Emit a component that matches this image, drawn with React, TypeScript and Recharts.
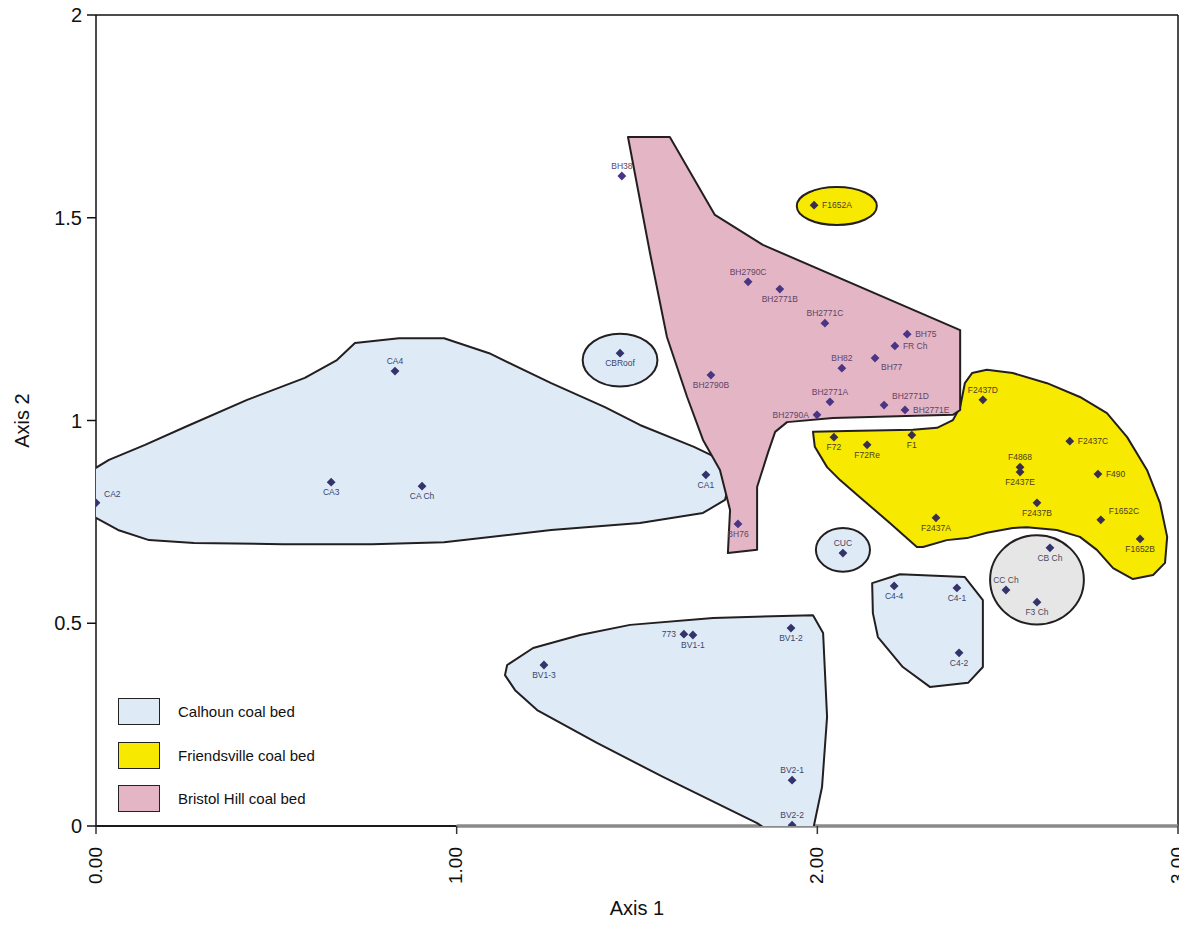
import React from 'react';
import { ScatterChart, Scatter, XAxis, YAxis, Legend, Label, ReferenceLine } from 'recharts';

const FONT = "'Liberation Sans', Arial, Helvetica, sans-serif";
const BLUE = '#deebf7';
const YELLOW = '#f8e900';
const PINK = '#e4b5c5';
const GRAY = '#e6e6e6';
const EDGE = '#231f20';

const xTicks = [0, 1, 2, 3];
const yTicks = [0, 0.5, 1, 1.5, 2];

type P = { name: string; x: number; y: number };
type V = { x: number; y: number };

// ---- sample points ----
const calhounSamples: P[] = [
  { name: 'CA2', x: 0.0, y: 0.797 },
  { name: 'CA3', x: 0.652, y: 0.848 },
  { name: 'CA Ch', x: 0.904, y: 0.838 },
  { name: 'CA4', x: 0.829, y: 1.122 },
  { name: 'CA1', x: 1.691, y: 0.866 },
  { name: 'CBRoof', x: 1.453, y: 1.166 },
  { name: 'CUC', x: 2.071, y: 0.673 },
  { name: 'C4-4', x: 2.213, y: 0.592 },
  { name: 'C4-1', x: 2.387, y: 0.587 },
  { name: 'C4-2', x: 2.393, y: 0.427 },
  { name: '773', x: 1.63, y: 0.473 },
  { name: 'BV1-1', x: 1.655, y: 0.471 },
  { name: 'BV1-2', x: 1.927, y: 0.488 },
  { name: 'BV1-3', x: 1.242, y: 0.397 },
  { name: 'BV2-1', x: 1.93, y: 0.113 },
  { name: 'BV2-2', x: 1.93, y: 0.002 },
];

const bristolSamples: P[] = [
  { name: 'BH38', x: 1.458, y: 1.603 },
  { name: 'BH2790C', x: 1.808, y: 1.342 },
  { name: 'BH2771B', x: 1.896, y: 1.324 },
  { name: 'BH2771C', x: 2.021, y: 1.24 },
  { name: 'BH75', x: 2.249, y: 1.213 },
  { name: 'FR Ch', x: 2.215, y: 1.184 },
  { name: 'BH82', x: 2.068, y: 1.129 },
  { name: 'BH77', x: 2.16, y: 1.154 },
  { name: 'BH2790B', x: 1.705, y: 1.112 },
  { name: 'BH2771A', x: 2.035, y: 1.046 },
  { name: 'BH2771D', x: 2.185, y: 1.038 },
  { name: 'BH2771E', x: 2.243, y: 1.026 },
  { name: 'BH2790A', x: 1.999, y: 1.014 },
  { name: 'BH76', x: 1.78, y: 0.745 },
];

const friendsvilleSamples: P[] = [
  { name: 'F1652A', x: 1.991, y: 1.531 },
  { name: 'F2437D', x: 2.459, y: 1.051 },
  { name: 'F72', x: 2.046, y: 0.959 },
  { name: 'F72Re', x: 2.138, y: 0.94 },
  { name: 'F1', x: 2.262, y: 0.964 },
  { name: 'F2437C', x: 2.7, y: 0.949 },
  { name: 'F4868', x: 2.562, y: 0.885 },
  { name: 'F2437E', x: 2.562, y: 0.873 },
  { name: 'F490', x: 2.778, y: 0.868 },
  { name: 'F2437B', x: 2.609, y: 0.797 },
  { name: 'F2437A', x: 2.329, y: 0.76 },
  { name: 'F1652C', x: 2.786, y: 0.755 },
  { name: 'F1652B', x: 2.895, y: 0.708 },
];

const channelSamples: P[] = [
  { name: 'CB Ch', x: 2.645, y: 0.686 },
  { name: 'CC Ch', x: 2.523, y: 0.582 },
  { name: 'F3 Ch', x: 2.609, y: 0.552 },
];

const labelSide: Record<string, string> = {
  CA2: 'aboveRight', CA3: 'below', 'CA Ch': 'below', CA4: 'above', CA1: 'below', CBRoof: 'below',
  CUC: 'above', 'C4-4': 'below', 'C4-1': 'below', 'C4-2': 'below', '773': 'left', 'BV1-1': 'below',
  'BV1-2': 'below', 'BV1-3': 'below', 'BV2-1': 'above', 'BV2-2': 'above',
  BH38: 'above', BH2790C: 'above', BH2771B: 'below', BH2771C: 'above', BH75: 'right', 'FR Ch': 'right',
  BH82: 'above', BH77: 'belowRight', BH2790B: 'below', BH2771A: 'above', BH2771D: 'aboveRight',
  BH2771E: 'right', BH2790A: 'left', BH76: 'below',
  F1652A: 'right', F2437D: 'above', F72: 'below', F72Re: 'below', F1: 'below', F2437C: 'right',
  F4868: 'above', F2437E: 'below', F490: 'right', F2437B: 'below', F2437A: 'below', F1652C: 'aboveRight',
  F1652B: 'below', 'CB Ch': 'below', 'CC Ch': 'above', 'F3 Ch': 'below',
};

// ---- group outlines (data units) ----
const calhounAOutline: V[] = [
  { x: -0.036, y: 0.829 }, { x: -0.019, y: 0.873 }, { x: 0.036, y: 0.903 }, { x: 0.136, y: 0.94 },
  { x: 0.247, y: 0.984 }, { x: 0.419, y: 1.051 }, { x: 0.579, y: 1.105 }, { x: 0.668, y: 1.149 },
  { x: 0.718, y: 1.191 }, { x: 0.84, y: 1.203 }, { x: 0.965, y: 1.203 }, { x: 1.09, y: 1.166 },
  { x: 1.262, y: 1.092 }, { x: 1.411, y: 1.033 }, { x: 1.508, y: 0.989 }, { x: 1.658, y: 0.935 },
  { x: 1.733, y: 0.903 }, { x: 1.758, y: 0.853 }, { x: 1.744, y: 0.804 }, { x: 1.683, y: 0.772 },
  { x: 1.508, y: 0.747 }, { x: 1.262, y: 0.73 }, { x: 0.965, y: 0.7 }, { x: 0.765, y: 0.695 },
  { x: 0.518, y: 0.695 }, { x: 0.272, y: 0.698 }, { x: 0.147, y: 0.705 }, { x: 0.061, y: 0.73 },
  { x: -0.014, y: 0.767 },
];

const bristolOutline: V[] = [
  { x: 1.475, y: 1.699 }, { x: 1.591, y: 1.699 }, { x: 1.716, y: 1.507 }, { x: 1.849, y: 1.433 },
  { x: 2.396, y: 1.223 }, { x: 2.396, y: 1.026 }, { x: 2.376, y: 1.014 }, { x: 2.043, y: 1.006 },
  { x: 1.916, y: 0.996 }, { x: 1.883, y: 0.972 }, { x: 1.863, y: 0.92 }, { x: 1.833, y: 0.836 },
  { x: 1.833, y: 0.681 }, { x: 1.752, y: 0.673 }, { x: 1.758, y: 0.779 }, { x: 1.73, y: 0.878 },
  { x: 1.683, y: 0.952 }, { x: 1.639, y: 1.058 }, { x: 1.583, y: 1.206 }, { x: 1.536, y: 1.413 },
];

const friendsvilleOutline: V[] = [
  { x: 1.988, y: 0.972 }, { x: 2.082, y: 0.974 }, { x: 2.265, y: 0.977 }, { x: 2.332, y: 0.982 },
  { x: 2.376, y: 1.001 }, { x: 2.396, y: 1.033 }, { x: 2.409, y: 1.092 }, { x: 2.429, y: 1.117 },
  { x: 2.47, y: 1.125 }, { x: 2.542, y: 1.117 }, { x: 2.637, y: 1.092 }, { x: 2.728, y: 1.058 },
  { x: 2.803, y: 1.018 }, { x: 2.859, y: 0.959 }, { x: 2.914, y: 0.878 }, { x: 2.95, y: 0.797 },
  { x: 2.97, y: 0.713 }, { x: 2.964, y: 0.649 }, { x: 2.931, y: 0.619 }, { x: 2.875, y: 0.609 },
  { x: 2.82, y: 0.636 }, { x: 2.775, y: 0.681 }, { x: 2.728, y: 0.713 }, { x: 2.664, y: 0.73 },
  { x: 2.581, y: 0.737 }, { x: 2.542, y: 0.735 }, { x: 2.47, y: 0.723 }, { x: 2.415, y: 0.71 },
  { x: 2.359, y: 0.705 }, { x: 2.293, y: 0.688 }, { x: 2.276, y: 0.688 }, { x: 2.201, y: 0.747 },
  { x: 2.118, y: 0.811 }, { x: 2.063, y: 0.853 }, { x: 2.027, y: 0.885 }, { x: 1.993, y: 0.935 },
];

const friendsvilleAOutline: V[] = [
  { x: 2.177, y: 1.529 }, { x: 2.141, y: 1.566 }, { x: 2.054, y: 1.581 }, { x: 1.967, y: 1.566 },
  { x: 1.931, y: 1.529 }, { x: 1.967, y: 1.492 }, { x: 2.054, y: 1.477 }, { x: 2.141, y: 1.492 },
];

const roofOutline: V[] = [
  { x: 1.568, y: 1.149 }, { x: 1.534, y: 1.2 }, { x: 1.453, y: 1.221 }, { x: 1.372, y: 1.2 },
  { x: 1.338, y: 1.149 }, { x: 1.372, y: 1.098 }, { x: 1.453, y: 1.077 }, { x: 1.534, y: 1.098 },
];

const cucOutline: V[] = [
  { x: 2.154, y: 0.681 }, { x: 2.13, y: 0.723 }, { x: 2.071, y: 0.741 }, { x: 2.012, y: 0.723 },
  { x: 1.988, y: 0.681 }, { x: 2.012, y: 0.639 }, { x: 2.071, y: 0.621 }, { x: 2.13, y: 0.639 },
];

const channelOutline: V[] = [
  { x: 2.753, y: 0.607 }, { x: 2.711, y: 0.693 }, { x: 2.609, y: 0.729 }, { x: 2.507, y: 0.693 },
  { x: 2.465, y: 0.607 }, { x: 2.507, y: 0.521 }, { x: 2.609, y: 0.485 }, { x: 2.711, y: 0.521 },
];

const c4Outline: V[] = [
  { x: 2.152, y: 0.599 }, { x: 2.229, y: 0.621 }, { x: 2.409, y: 0.614 }, { x: 2.459, y: 0.557 },
  { x: 2.459, y: 0.392 }, { x: 2.418, y: 0.353 }, { x: 2.312, y: 0.343 }, { x: 2.237, y: 0.392 },
  { x: 2.168, y: 0.466 }, { x: 2.154, y: 0.525 },
];

const bvOutline: V[] = [
  { x: 1.14, y: 0.397 }, { x: 1.212, y: 0.439 }, { x: 1.342, y: 0.471 }, { x: 1.481, y: 0.496 },
  { x: 1.711, y: 0.513 }, { x: 1.988, y: 0.52 }, { x: 2.016, y: 0.476 }, { x: 2.027, y: 0.269 },
  { x: 2.013, y: 0.096 }, { x: 1.988, y: -0.01 }, { x: 1.952, y: -0.042 }, { x: 1.896, y: -0.03 },
  { x: 1.833, y: 0.007 }, { x: 1.572, y: 0.121 }, { x: 1.389, y: 0.205 }, { x: 1.223, y: 0.286 },
  { x: 1.162, y: 0.335 }, { x: 1.134, y: 0.372 },
];

// bottom frame line: black first stretch, grey remainder (as in the scan)
const baseBlack = [{ x: 0, y: 0 }, { x: 1, y: 0 }];
const baseGrey = [{ x: 1, y: 0 }, { x: 3, y: 0 }];

const legendItems = [
  { name: 'Calhoun coal bed', color: BLUE },
  { name: 'Friendsville coal bed', color: YELLOW },
  { name: 'Bristol Hill coal bed', color: PINK },
];

const noMark = () => <g />;

const makeMarker = (markColor: string, textColor: string) => (props: any) => {
  const { cx, cy, payload } = props;
  if (cx == null || cy == null) return <g />;
  const side = labelSide[payload.name] || 'below';
  let tx = cx;
  let ty = cy + 13;
  let anchor: 'start' | 'middle' | 'end' = 'middle';
  if (side === 'above') { ty = cy - 7; }
  else if (side === 'right') { tx = cx + 8; ty = cy + 3; anchor = 'start'; }
  else if (side === 'left') { tx = cx - 8; ty = cy + 3; anchor = 'end'; }
  else if (side === 'aboveRight') { tx = cx + 8; ty = cy - 6; anchor = 'start'; }
  else if (side === 'belowRight') { tx = cx + 6; ty = cy + 12; anchor = 'start'; }
  const s = 4.4;
  return (
    <g>
      <path d={`M${cx},${cy - s}L${cx + s},${cy}L${cx},${cy + s}L${cx - s},${cy}Z`} fill={markColor} />
      <text x={tx} y={ty} textAnchor={anchor} fontSize={8.5} fontFamily={FONT} fill={textColor}>
        {payload.name}
      </text>
    </g>
  );
};

const XTick = (props: any) => {
  const { x, y, payload } = props;
  return (
    <text
      x={x}
      y={y}
      dy="0.3em"
      transform={`rotate(-90, ${x}, ${y})`}
      textAnchor="end"
      fontSize={19}
      fontFamily={FONT}
      fill="#111"
    >
      {Number(payload.value).toFixed(2)}
    </text>
  );
};

const renderLegend = () => (
  <div style={{ fontFamily: FONT }}>
    {legendItems.map((it) => (
      <div key={it.name} style={{ display: 'flex', alignItems: 'center', height: 43.5 }}>
        <div
          style={{
            width: 40,
            height: 25,
            background: it.color,
            border: '1.5px solid #222',
          }}
        />
        <span style={{ marginLeft: 18, fontSize: 15, color: '#111' }}>{it.name}</span>
      </div>
    ))}
  </div>
);

const outlineSeries: { data: V[]; fill: string; curve: 'linearClosed' | 'basisClosed' }[] = [
  { data: calhounAOutline, fill: BLUE, curve: 'linearClosed' },
  { data: bvOutline, fill: BLUE, curve: 'linearClosed' },
  { data: c4Outline, fill: BLUE, curve: 'linearClosed' },
  { data: cucOutline, fill: BLUE, curve: 'basisClosed' },
  { data: roofOutline, fill: BLUE, curve: 'basisClosed' },
  { data: channelOutline, fill: GRAY, curve: 'basisClosed' },
  { data: friendsvilleOutline, fill: YELLOW, curve: 'linearClosed' },
  { data: friendsvilleAOutline, fill: YELLOW, curve: 'basisClosed' },
  { data: bristolOutline, fill: PINK, curve: 'linearClosed' },
];

export default function App() {
  return (
    <div style={{ position: 'relative', width: 1179, height: 911, fontFamily: FONT }}>
      <style>{`.recharts-surface { overflow: visible; }`}</style>
      <ScatterChart width={1179} height={911} margin={{ top: 7, right: 9, left: 0, bottom: 0 }}>
        <XAxis
          type="number"
          dataKey="x"
          domain={[0, 3]}
          ticks={xTicks}
          interval={0}
          allowDataOverflow
          height={93}
          axisLine={false}
          tickLine={{ stroke: '#333', strokeWidth: 1.5 }}
          tickSize={8}
          tickMargin={13}
          tick={<XTick />}
        >
          <Label value="Axis 1" position="insideBottom" offset={4} fontSize={20} fill="#111" fontFamily={FONT} />
        </XAxis>
        <YAxis
          type="number"
          dataKey="y"
          domain={[0, 2]}
          ticks={yTicks}
          interval={0}
          allowDataOverflow
          width={88}
          axisLine={{ stroke: '#111', strokeWidth: 1.5 }}
          tickLine={{ stroke: '#111', strokeWidth: 1.5 }}
          tickSize={9}
          tickMargin={5}
          tick={{ fontSize: 20, fill: '#111', fontFamily: FONT }}
        >
          <Label
            value="Axis 2"
            angle={-90}
            position="insideLeft"
            offset={14}
            fontSize={20}
            fill="#111"
            fontFamily={FONT}
            style={{ textAnchor: 'middle' }}
          />
        </YAxis>
        <ReferenceLine y={2} stroke="#111" strokeWidth={1.5} ifOverflow="visible" />
        <ReferenceLine x={3} stroke="#111" strokeWidth={1.5} ifOverflow="visible" />
        <ReferenceLine segment={baseBlack} stroke="#1a1a1a" strokeWidth={2} ifOverflow="visible" />
        <ReferenceLine segment={baseGrey} stroke="#8a8a8a" strokeWidth={3.5} ifOverflow="visible" />
        {outlineSeries.map((o, i) => (
          <Scatter
            key={`outline-${i}`}
            data={o.data}
            shape={noMark}
            line={{ fill: o.fill, stroke: EDGE, strokeWidth: 2, strokeLinejoin: 'round' }}
            lineType="joint"
            lineJointType={o.curve}
            legendType="none"
            isAnimationActive={false}
          />
        ))}
        <Scatter name="Calhoun coal bed" data={calhounSamples} fill={BLUE} shape={makeMarker('#34336b', '#3b4468')} isAnimationActive={false} />
        <Scatter name="Friendsville coal bed" data={friendsvilleSamples} fill={YELLOW} shape={makeMarker('#3a2f4a', '#4a4020')} isAnimationActive={false} />
        <Scatter name="Bristol Hill coal bed" data={bristolSamples} fill={PINK} shape={makeMarker('#4a3585', '#5e4566')} isAnimationActive={false} />
        <Scatter name="Channel" data={channelSamples} fill={GRAY} shape={makeMarker('#34336b', '#4a4a5e')} legendType="none" isAnimationActive={false} />
        <Legend
          layout="vertical"
          align="center"
          verticalAlign="middle"
          content={renderLegend}
          wrapperStyle={{ left: 110, top: 682, width: 260 }}
        />
      </ScatterChart>
    </div>
  );
}
